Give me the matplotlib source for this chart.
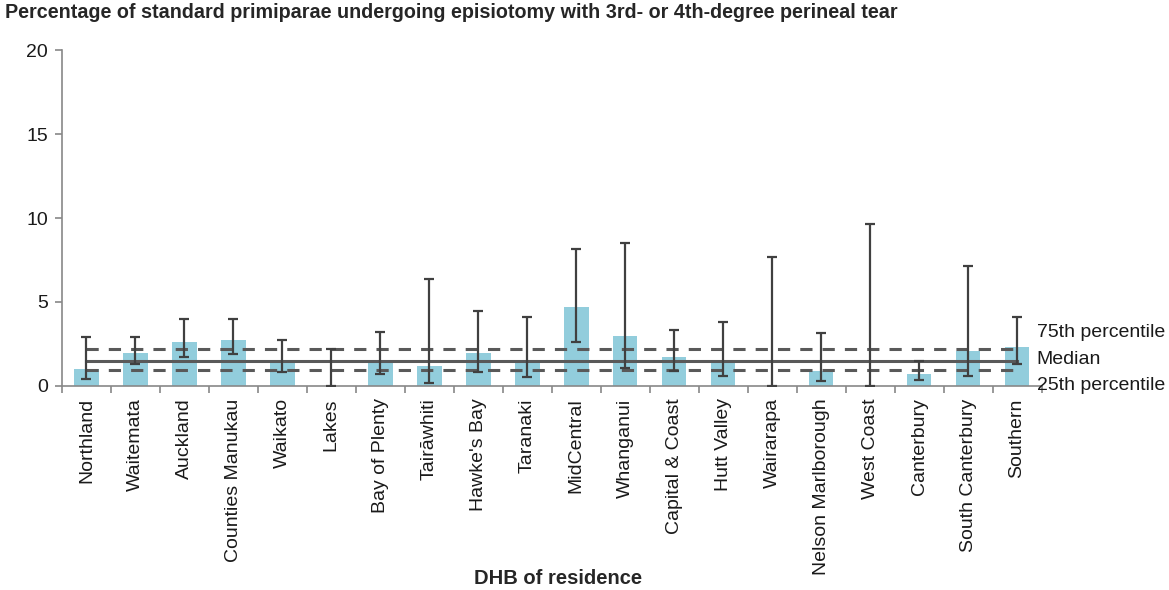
import matplotlib
matplotlib.use('Agg')
import matplotlib.pyplot as plt
import numpy as np

plt.rcParams['font.family'] = ['Liberation Sans', 'DejaVu Sans']

# DHB names and percentage values
dhbs = ['Northland', 'Waitemata', 'Auckland', 'Counties Manukau', 'Waikato',
        'Lakes', 'Bay of Plenty', 'Tair\u0101whiti', "Hawke's Bay", 'Taranaki',
        'MidCentral', 'Whanganui', 'Capital & Coast', 'Hutt Valley', 'Wairarapa',
        'Nelson Marlborough', 'West Coast', 'Canterbury', 'South Canterbury',
        'Southern']
rate = [1.01, 1.98, 2.62, 2.74, 1.48, 0.0, 1.45, 1.21, 1.98, 1.45,
        4.68, 3.00, 1.71, 1.45, 0.0, 0.91, 0.0, 0.70, 2.06, 2.30]
ci_low = [0.42, 1.29, 1.73, 1.92, 0.83, 0.0, 0.71, 0.20, 0.83, 0.52,
          2.64, 1.05, 0.91, 0.60, 0.0, 0.30, 0.0, 0.36, 0.60, 1.29]
ci_high = [2.93, 2.93, 3.97, 3.97, 2.76, 2.18, 3.23, 6.37, 4.48, 4.11,
           8.17, 8.53, 3.33, 3.83, 7.70, 3.17, 9.62, 1.49, 7.14, 4.13]
p25 = 0.95
median = 1.50
p75 = 2.22

x = np.arange(len(dhbs))
rate = np.array(rate)
yerr = [rate - np.array(ci_low), np.array(ci_high) - rate]

fig = plt.figure(figsize=(11.69, 5.90), dpi=100)
ax = fig.add_axes([0.053, 0.346, 0.838, 0.569])

ax.bar(x, rate, width=0.5, color='#92CDDC', zorder=2)

grey = '#595959'
ax.plot(x, [p75]*len(x), color=grey, lw=2.2, dashes=(4, 3.3), zorder=3)
ax.plot(x, [median]*len(x), color=grey, lw=2.2, zorder=3)
ax.plot(x, [p25]*len(x), color=grey, lw=2.2, dashes=(4, 3.3), zorder=3)

ax.errorbar(x, rate, yerr=yerr, fmt='none', ecolor='#404040', elinewidth=1.6,
            capsize=3.8, capthick=1.6, zorder=4)

ax.set_xlim(-0.5, len(x) - 0.5)
ax.set_ylim(0, 20)
ax.set_yticks([0, 5, 10, 15, 20])
ax.set_xticks(x)
ax.set_xticklabels(dhbs, rotation=90, fontsize=14, color='#1a1a1a')
ax.set_xticks(np.arange(len(x) + 1) - 0.5, minor=True)
ax.tick_params(axis='x', which='major', length=0, pad=9)
ax.tick_params(axis='x', which='minor', length=5, color='#888888', width=1.2)
ax.tick_params(axis='y', length=5, color='#888888', width=1.2, labelsize=14,
               labelcolor='#1a1a1a', pad=5)

for s in ['top', 'right']:
    ax.spines[s].set_visible(False)
for s in ['left', 'bottom']:
    ax.spines[s].set_color('#888888')
    ax.spines[s].set_linewidth(1.2)

# percentile labels at the right
lx = len(x) - 0.6
ax.text(lx, 3.2, '75th percentile', fontsize=14, va='center',
        ha='left', color='#1a1a1a', clip_on=False)
ax.text(lx, 1.6, 'Median', fontsize=14, va='center',
        ha='left', color='#1a1a1a', clip_on=False)
ax.text(lx, 0.02, '25th percentile', fontsize=14, va='center',
        ha='left', color='#1a1a1a', clip_on=False)

fig.text(0.004, 0.978, 'Percentage of standard primiparae undergoing episiotomy '
         'with 3rd- or 4th-degree perineal tear', fontsize=14.2, fontweight='bold',
         ha='left', va='center', color='#262626')
fig.text(0.477, 0.02, 'DHB of residence', fontsize=14.5, fontweight='bold',
         ha='center', va='center', color='#262626')

fig.savefig('out.png', dpi=100)
